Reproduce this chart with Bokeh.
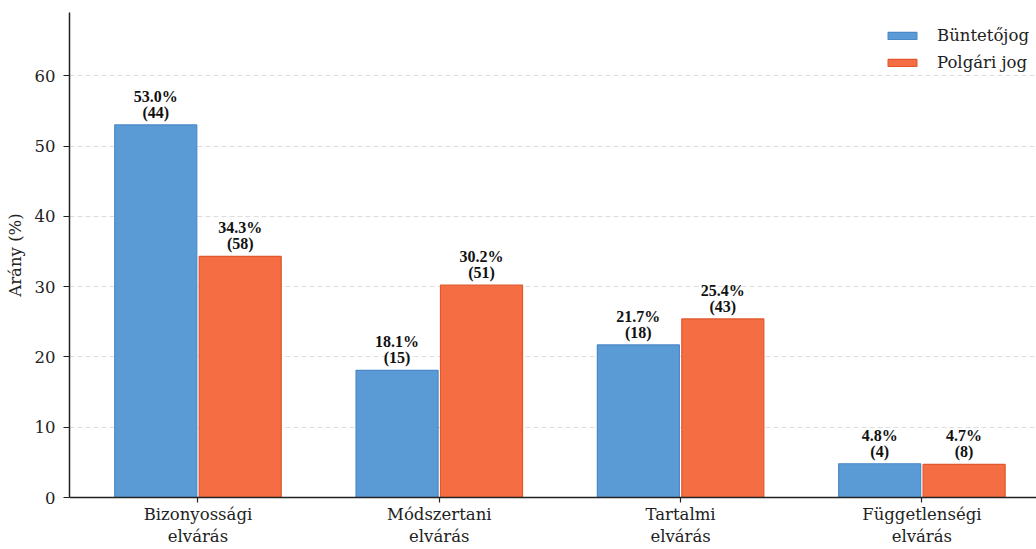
from bokeh.plotting import figure
from bokeh.models import ColumnDataSource, FixedTicker, Legend, LegendItem, LabelSet
from bokeh.embed import file_html
from bokeh.resources import INLINE

categories = ["Bizonyossági\nelvárás", "Módszertani\nelvárás", "Tartalmi\nelvárás", "Függetlenségi\nelvárás"]
series_names = ["Büntetőjog", "Polgári jog"]
buntetojog_pct = [53.0, 18.1, 21.7, 4.8]
buntetojog_n = [44, 15, 18, 4]
polgari_pct = [34.3, 30.2, 25.4, 4.7]
polgari_n = [58, 51, 43, 8]
y_ticks = [0, 10, 20, 30, 40, 50, 60]

FONT = "DejaVu Serif"
BAR_W = 0.34
OFF = 0.175

p = figure(width=1036, height=549, output_backend="svg", toolbar_location=None,
           x_range=(-0.5325, 3.475), y_range=(0, 69.0),
           min_border_left=69, min_border_right=0, min_border_top=12, min_border_bottom=49)
p.outline_line_color = None
p.background_fill_color = "white"

xs = list(range(len(categories)))
src_b = ColumnDataSource(dict(x=[i - OFF for i in xs], top=buntetojog_pct,
                              pct=[f"{v:.1f}%" for v in buntetojog_pct],
                              cnt=[f"({n})" for n in buntetojog_n]))
src_p = ColumnDataSource(dict(x=[i + OFF for i in xs], top=polgari_pct,
                              pct=[f"{v:.1f}%" for v in polgari_pct],
                              cnt=[f"({n})" for n in polgari_n]))

rb = p.vbar(x="x", top="top", width=BAR_W, bottom=0, source=src_b,
            fill_color="#5B9BD5", line_color="#4A88C7", line_width=1.2)
rp = p.vbar(x="x", top="top", width=BAR_W, bottom=0, source=src_p,
            fill_color="#F46D43", line_color="#E2572C", line_width=1.2)

for src in (src_b, src_p):
    for col, off in (("cnt", 7), ("pct", 23)):
        p.add_layout(LabelSet(x="x", y="top", text=col, source=src, text_align="center",
                              text_baseline="alphabetic", y_offset=off, text_font=FONT,
                              text_font_size="16px", text_font_style="bold",
                              text_color="#111111"))

# axes
p.xaxis.ticker = FixedTicker(ticks=xs)
p.xaxis.major_label_overrides = {i: c for i, c in enumerate(categories)}
p.yaxis.ticker = FixedTicker(ticks=y_ticks)
for ax in (p.xaxis, p.yaxis):
    ax.major_label_text_font = FONT
    ax.major_label_text_font_size = "16.5px"
    ax.major_label_text_color = "#222222"
    ax.axis_line_color = "#222222"
    ax.axis_line_width = 1.5
    ax.major_tick_line_color = "#222222"
    ax.major_tick_line_width = 1.2
    ax.major_tick_in = 0
    ax.minor_tick_line_color = None
p.xaxis.major_tick_out = 5
p.yaxis.major_tick_out = 6
p.xaxis.major_label_text_line_height = 1.2
p.xaxis.major_label_standoff = 2
p.yaxis.major_label_standoff = 8
p.yaxis.axis_label = "Arány (%)"
p.yaxis.axis_label_text_font = FONT
p.yaxis.axis_label_text_font_size = "16.5px"
p.yaxis.axis_label_text_font_style = "normal"
p.yaxis.axis_label_text_color = "#222222"
p.yaxis.axis_label_standoff = 7

p.xgrid.grid_line_color = None
p.ygrid.grid_line_color = "#dddddd"
p.ygrid.grid_line_dash = "5 3"
p.ygrid.grid_line_width = 1

legend = Legend(items=[LegendItem(label=series_names[0], renderers=[rb]),
                       LegendItem(label=series_names[1], renderers=[rp])],
                location=(815, 425))
legend.label_text_font = FONT
legend.label_text_font_size = "16.5px"
legend.label_text_color = "#222222"
legend.border_line_color = None
legend.background_fill_alpha = 0
legend.glyph_width = 36
legend.glyph_height = 9
legend.label_height = 20
legend.label_standoff = 17
legend.spacing = 7
legend.padding = 4
legend.margin = 0
p.add_layout(legend)

open("out.html", "w").write(file_html(p, INLINE))
